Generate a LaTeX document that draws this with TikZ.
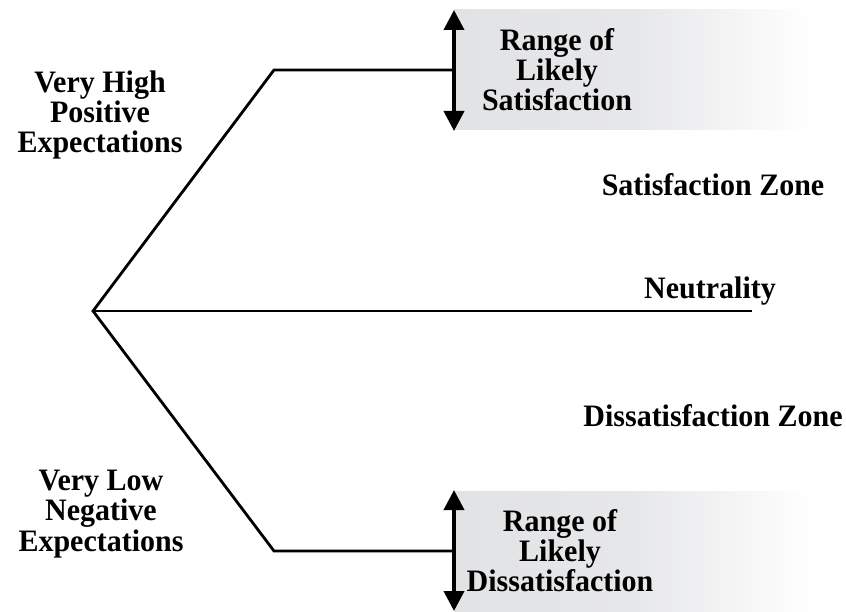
\documentclass[tikz,border=0pt]{standalone}
\usepackage{fontspec}
\setmainfont{Liberation Serif}
\usetikzlibrary{arrows.meta}
\definecolor{zonegrey}{RGB}{226,227,229}
\tikzset{
  lbl/.style={font=\fontsize{30}{29}\selectfont\bfseries, align=center, inner sep=0pt, yscale=1.04},
  branch/.style={line width=2.8pt, line join=miter},
  rangearrow/.style={line width=3.8pt, {Triangle[width=20pt,length=20pt]}-{Triangle[width=20pt,length=20pt]}},
  band/.style={left color=zonegrey, right color=white, middle color=zonegrey!85, draw=none}
}
\begin{document}
\begin{tikzpicture}[x=1pt,y=-1pt]
\useasboundingbox (0,0) rectangle (846,612);
% shaded ranges
\fill[band] (454,10) rectangle (812,130);
\fill[band] (454,491) rectangle (812,612);
% branches
\coordinate (origin) at (93,311);
\coordinate (topknee) at (274,70);
\coordinate (botknee) at (274,551);
\coordinate (topend) at (454,70);
\coordinate (botend) at (454,551);
\coordinate (neutralend) at (752,311);
\draw[branch] (topend) -- (topknee) -- (origin) -- (botknee) -- (botend);
\draw[branch] (origin) -- (neutralend);
% range arrows
\coordinate (t1) at (454,10);
\coordinate (t2) at (454,131);
\coordinate (b1) at (454,490);
\coordinate (b2) at (454,611);
\draw[rangearrow] (t1) -- (t2);
\draw[rangearrow] (b1) -- (b2);
% labels
\node[lbl] (high) at (100,115) {Very High\\Positive\\Expectations};
\node[lbl] (low) at (101,514) {Very Low\\Negative\\Expectations};
\node[lbl] (rsat) at (557,70) {Range of\\Likely\\Satisfaction};
\node[lbl] (rdis) at (560,551) {Range of\\Likely\\Dissatisfaction};
\node[lbl] (szone) at (713,185) {Satisfaction Zone};
\node[lbl] (dzone) at (713,416) {Dissatisfaction Zone};
\node[lbl] (neut) at (710,291) {Neutrality};
\end{tikzpicture}
\end{document}
